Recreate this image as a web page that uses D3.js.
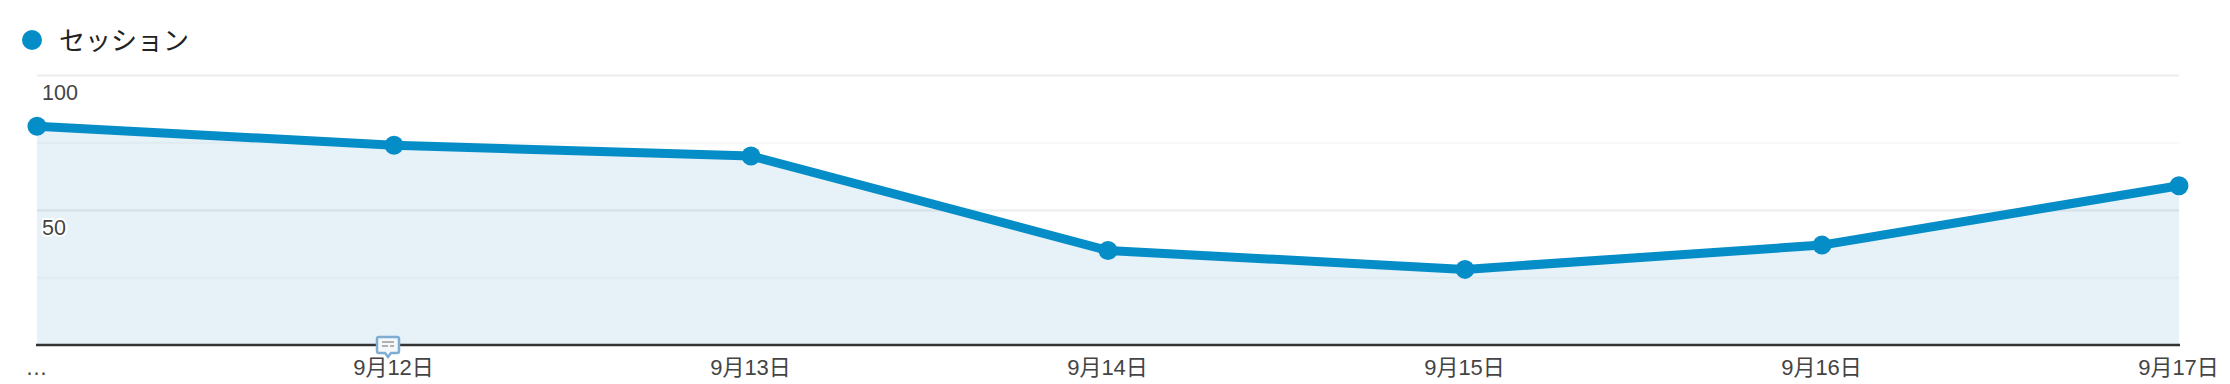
<!DOCTYPE html>
<html>
<head>
<meta charset="utf-8">
<script src="https://cdn.jsdelivr.net/npm/d3@7"></script>
<style>
	html, body { margin: 0; padding: 0; background: #fff; }
	svg { display: block; }
	text { font-family: "Liberation Sans", "Noto Sans CJK JP", sans-serif; }
	.axis path, .axis line { display: none; }
	.x-axis text { font-size: 22px; fill: #444; }
	.y-axis text { font-size: 21.5px; fill: #444; stroke: #fff; stroke-width: 4px; paint-order: stroke; stroke-linejoin: round; }
</style>
</head>
<body>
<div id="chart"></div>
<script>
const series_name = 'セッション';
const categories = ['…', '9月12日', '9月13日', '9月14日', '9月15日', '9月16日', '9月17日'];
const sessions = [81, 74, 70, 35, 28, 37, 59];
const grid_values = [25, 50, 75, 100];
const major_grid_values = [50, 100];
const y_tick_labels = [50, 100];

const width = 2230;
const height = 384;
const color = '#058dc7';

const x = d3.scalePoint().domain(categories).range([37, 2179]);
const y = d3.scaleLinear().domain([0, 100]).range([345, 75]);

const svg = d3.select('#chart').append('svg')
	.attr('width', width)
	.attr('height', height);

// filled area goes first, the grid lines show through it
const area = d3.area()
	.x((d, i) => x(categories[i]))
	.y0(y(0))
	.y1(d => y(d));

svg.append('path')
	.datum(sessions)
	.attr('d', area)
	.attr('fill', '#e6f1f8');

svg.append('g')
	.selectAll('line')
	.data(grid_values)
	.join('line')
	.attr('x1', 37)
	.attr('x2', 2179)
	.attr('y1', d => y(d) + 0.5)
	.attr('y2', d => y(d) + 0.5)
	.attr('stroke', '#000')
	.attr('stroke-opacity', d => major_grid_values.includes(d) ? 0.06 : 0.025)
	.attr('stroke-width', 2.5);

const line = d3.line()
	.x((d, i) => x(categories[i]))
	.y(d => y(d));

svg.append('path')
	.datum(sessions)
	.attr('d', line)
	.attr('fill', 'none')
	.attr('stroke', color)
	.attr('stroke-width', 9);

svg.append('g')
	.selectAll('circle')
	.data(sessions)
	.join('circle')
	.attr('cx', (d, i) => x(categories[i]))
	.attr('cy', d => y(d))
	.attr('r', 9.5)
	.attr('fill', color);

// baseline
svg.append('line')
	.attr('x1', 36)
	.attr('x2', 2180)
	.attr('y1', y(0))
	.attr('y2', y(0))
	.attr('stroke', '#333')
	.attr('stroke-width', 2.5);

const x_axis = svg.append('g')
	.attr('class', 'axis x-axis')
	.attr('transform', `translate(-1, ${y(0)})`)
	.call(d3.axisBottom(x).tickSize(0).tickPadding(0));

x_axis.selectAll('text')
	.attr('dy', null)
	.attr('y', 30);

const y_axis = svg.append('g')
	.attr('class', 'axis y-axis')
	.attr('transform', 'translate(42, 0)')
	.call(d3.axisRight(y).tickValues(y_tick_labels).tickSize(0).tickPadding(0));

y_axis.selectAll('text')
	.attr('dy', null)
	.attr('y', 24);

// annotation marker on the baseline
const note = svg.append('g')
	.attr('transform', `translate(${x(categories[1]) - 6}, ${y(0)})`);

note.append('path')
	.attr('d', 'M-9,-8 h18 a2,2 0 0 1 2,2 v12 a2,2 0 0 1 -2,2 h-6 l-3,4 l-3,-4 h-6 a2,2 0 0 1 -2,-2 v-12 a2,2 0 0 1 2,-2 z')
	.attr('fill', '#f4f8fb')
	.attr('stroke', '#7fadd2')
	.attr('stroke-width', 2.5);

note.append('path')
	.attr('d', 'M-6,-3 h12 M-6,1 h6 M2,1 h4')
	.attr('stroke', '#999')
	.attr('stroke-width', 1.5);

// legend
const legend = svg.append('g');

legend.append('circle')
	.attr('cx', 32)
	.attr('cy', 40)
	.attr('r', 10)
	.attr('fill', color);

legend.append('text')
	.attr('x', 59)
	.attr('y', 50)
	.attr('font-size', 26)
	.attr('fill', '#222')
	.text(series_name);
</script>
</body>
</html>
